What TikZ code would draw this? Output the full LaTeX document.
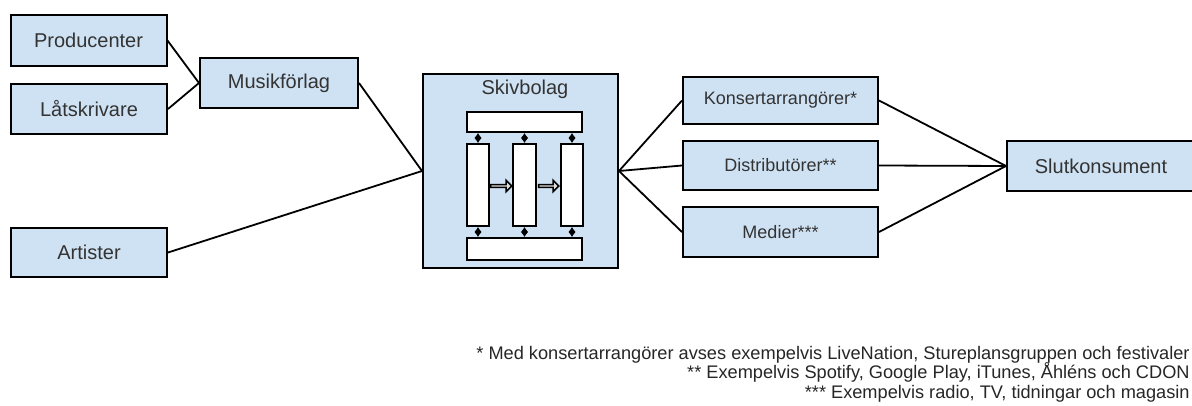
\documentclass[tikz,border=0pt]{standalone}
\usepackage{fontspec}
\setmainfont{Liberation Sans}
\usetikzlibrary{arrows.meta,shapes.arrows,positioning}
\definecolor{boxblue}{HTML}{CFE2F3}

\begin{document}
\begin{tikzpicture}[
    x=0.5pt, y=-0.5pt,
    box/.style={draw, line width=1pt, fill=boxblue, inner sep=0pt, align=center, font=\fontsize{10}{12}\selectfont, text=black!80},
    inbox/.style={draw, line width=1pt, fill=white, inner sep=0pt},
    link/.style={line width=0.9pt},
    tick/.style={{Latex[length=2.4pt,width=3.6pt]}-{Latex[length=2.4pt,width=3.6pt]}, line width=1.1pt},
    blockarr/.style={single arrow, draw, line width=0.8pt, fill=black!12, inner sep=0pt, minimum height=10.5pt, minimum width=5.6pt, single arrow head extend=1.3pt},
    note/.style={anchor=base east, inner sep=0pt, font=\fontsize{9.1}{10}\selectfont, text=black!85}
]
\clip (0,0) rectangle (1192,406);

\node[box, minimum width=78pt, minimum height=25.5pt] (prod) at (88.5,40.5) {Producenter};
\node[box, minimum width=78pt, minimum height=25pt] (latskr) at (89,109) {Låtskrivare};
\node[box, minimum width=78pt, minimum height=24.5pt] (art) at (89,252.5) {Artister};
\node[box, minimum width=79pt, minimum height=25pt] (forlag) at (279,83) {Musikförlag};

% skivbolaget med sin inre struktur
\node[box, minimum width=97.5pt, minimum height=97pt] (skiv) at (520.5,171) {};
\node[font=\fontsize{10}{12}\selectfont, text=black!80, inner sep=0pt] (skivtitel) at (525,89) {Skivbolag};
\node[inbox, minimum width=57.5pt, minimum height=10pt] (topbar) at (524.5,122) {};
\node[inbox, minimum width=57.5pt, minimum height=11pt] (botbar) at (524.5,249) {};
\node[inbox, minimum width=11pt, minimum height=41pt] (col1) at (478,185) {};
\node[inbox, minimum width=11.5pt, minimum height=41pt] (col2) at (524.5,185) {};
\node[inbox, minimum width=11pt, minimum height=41pt] (col3) at (572,185) {};
\foreach \c in {col1,col2,col3} {
  \draw[tick] (\c.north) -- (\c.north |- topbar.south);
  \draw[tick] (\c.south) -- (\c.south |- botbar.north);
}
\node[blockarr] (pil1) at (500.5,186) {};
\node[blockarr, minimum height=10pt] (pil2) at (548,186) {};

\node[box, minimum width=97.5pt, minimum height=23.5pt, font=\fontsize{9}{11}\selectfont] (konsert) at (780.5,100.5) {Konsertarrangörer*};
\node[box, minimum width=97.5pt, minimum height=24.5pt, font=\fontsize{9}{11}\selectfont] (distr) at (780.5,165.5) {Distributörer**};
\node[box, minimum width=97.5pt, minimum height=25pt, font=\fontsize{9}{11}\selectfont] (medier) at (780.5,232) {Medier***};
\node[box, minimum width=94pt, minimum height=25pt] (slut) at (1101,166) {Slutkonsument};

\draw[link] (prod.east) -- (forlag.west);
\draw[link] (latskr.east) -- (forlag.west);
\draw[link] (forlag.east) -- (skiv.west);
\draw[link] (art.east) -- (skiv.west);
\foreach \n in {konsert,distr,medier} {
  \draw[link] (skiv.east) -- (\n.west);
  \draw[link] (\n.east) -- (slut.west);
}

% fotnoter
\node[note] (not1) at (1190,359) {* Med konsertarrangörer avses exempelvis LiveNation, Stureplansgruppen och festivaler};
\node[note] (not2) at (1190,378.5) {** Exempelvis Spotify, Google Play, iTunes, Åhléns och CDON};
\node[note] (not3) at (1190,398) {*** Exempelvis radio, TV, tidningar och magasin};
\end{tikzpicture}
\end{document}
